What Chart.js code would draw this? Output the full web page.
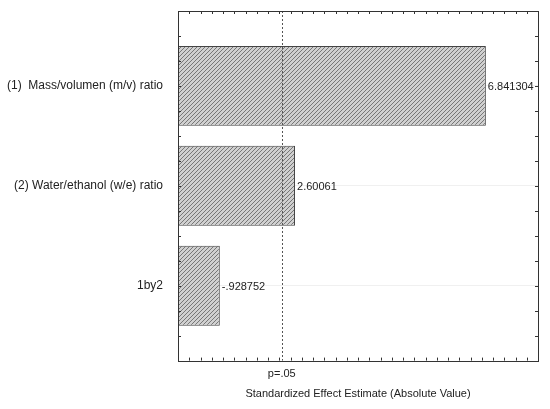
<!DOCTYPE html>
<html>
<head>
<meta charset="utf-8">
<script src="https://cdn.jsdelivr.net/npm/chart.js@4/dist/chart.umd.min.js"></script>
<style>
  html, body { margin: 0; padding: 0; background: #fff; }
  #wrap { width: 550px; height: 409px; }
</style>
</head>
<body>
<div id="wrap"><canvas id="paretoChart"></canvas></div>
<script>
const factorNames = ['(1)  Mass/volumen (m/v) ratio', '(2) Water/ethanol (w/e) ratio', '1by2'];
const factorPositions = [1, 2, 3];
const effectValues = [6.841304, 2.60061, 0.928752];
const effectLabels = ['6.841304', '2.60061', '-.928752'];
const pCritical = 2.306;
const pLabel = 'p=.05';

function makeHatch() {
    const c = document.createElement('canvas');
    c.width = 4; c.height = 4;
    const g = c.getContext('2d');
    g.fillStyle = '#d0d0d0';
    g.fillRect(0, 0, 4, 4);
    g.strokeStyle = '#777';
    g.lineWidth = 1;
    g.beginPath();
    g.moveTo(-1, 5); g.lineTo(5, -1);
    g.moveTo(-1, 1); g.lineTo(1, -1);
    g.moveTo(3, 5); g.lineTo(5, 3);
    g.stroke();
    return g.createPattern(c, 'repeat');
}

const framePlugin = {
    id: 'frame',
    afterDatasetsDraw(chart) {
        const ctx = chart.ctx;
        const a = chart.chartArea;
        const xs = chart.scales.x, ys = chart.scales.y;
        ctx.save();
        // p=.05 reference line
        const px = Math.round(xs.getPixelForValue(pCritical)) + 0.5;
        ctx.strokeStyle = '#555';
        ctx.lineWidth = 1;
        ctx.setLineDash([2, 2]);
        ctx.beginPath();
        ctx.moveTo(px, a.top); ctx.lineTo(px, a.bottom);
        ctx.stroke();
        ctx.setLineDash([]);
        // frame
        ctx.strokeStyle = '#333';
        ctx.strokeRect(Math.round(a.left) + 0.5, Math.round(a.top) + 0.5,
            Math.round(a.right - a.left), Math.round(a.bottom - a.top));
        // inner ticks
        ctx.beginPath();
        for (let v = xs.min; v <= xs.max + 1e-9; v += 0.25) {
            const x = Math.round(xs.getPixelForValue(v)) + 0.5;
            ctx.moveTo(x, a.top); ctx.lineTo(x, a.top + 3);
            ctx.moveTo(x, a.bottom); ctx.lineTo(x, a.bottom - 3);
        }
        for (let v = ys.min; v <= ys.max + 1e-9; v += 0.25) {
            const y = Math.round(ys.getPixelForValue(v)) + 0.5;
            ctx.moveTo(a.left, y); ctx.lineTo(a.left + 3, y);
            ctx.moveTo(a.right, y); ctx.lineTo(a.right - 3, y);
        }
        ctx.stroke();
        // value labels
        ctx.fillStyle = '#222';
        ctx.font = '11px "Liberation Sans", Arial, sans-serif';
        ctx.textBaseline = 'middle';
        const meta = chart.getDatasetMeta(0);
        meta.data.forEach((bar, i) => {
            ctx.fillText(effectLabels[i], bar.x + 2, bar.y + 1);
        });
        ctx.restore();
    }
};

const ctx = document.getElementById('paretoChart').getContext('2d');
new Chart(ctx, {
    type: 'bar',
    data: {
        datasets: [{
            data: factorPositions.map((p, i) => ({ x: effectValues[i], y: p })),
            backgroundColor: makeHatch(),
            borderColor: '#444',
            borderWidth: 1,
            barPercentage: 1,
            categoryPercentage: 0.8
        }]
    },
    options: {
        indexAxis: 'y',
        responsive: true,
        maintainAspectRatio: false,
        animation: false,
        layout: { padding: { top: 11, right: 12, bottom: 8, left: 0 } },
        plugins: { legend: { display: false }, tooltip: { enabled: false } },
        scales: {
            x: {
                type: 'linear',
                min: 0,
                max: 8,
                afterBuildTicks: scale => { scale.ticks = [{ value: pCritical }]; },
                ticks: {
                    callback: () => pLabel,
                    color: '#222',
                    padding: 7,
                    font: { family: '"Liberation Sans", Arial, sans-serif', size: 11 }
                },
                grid: { display: false, drawTicks: false },
                border: { display: false },
                title: {
                    display: true,
                    text: 'Standardized Effect Estimate (Absolute Value)',
                    color: '#222',
                    padding: { top: 0, bottom: 0 },
                    font: { family: '"Liberation Sans", Arial, sans-serif', size: 11 }
                }
            },
            y: {
                type: 'linear',
                min: 0.25,
                max: 3.75,
                offset: false,
                reverse: true,
                afterBuildTicks: scale => { scale.ticks = factorPositions.map(v => ({ value: v })); },
                afterFit: scale => {
                    scale.width = 178;
                    scale.paddingTop = 0;
                    scale.paddingBottom = 0;
                },
                ticks: {
                    callback: (v) => factorNames[factorPositions.indexOf(v)] || '',
                    color: '#222',
                    padding: 15,
                    font: { family: '"Liberation Sans", Arial, sans-serif', size: 12 }
                },
                grid: { color: 'rgba(0,0,0,0.06)', drawTicks: false, offset: false },
                border: { display: false }
            }
        }
    },
    plugins: [framePlugin]
});
</script>
</body>
</html>
